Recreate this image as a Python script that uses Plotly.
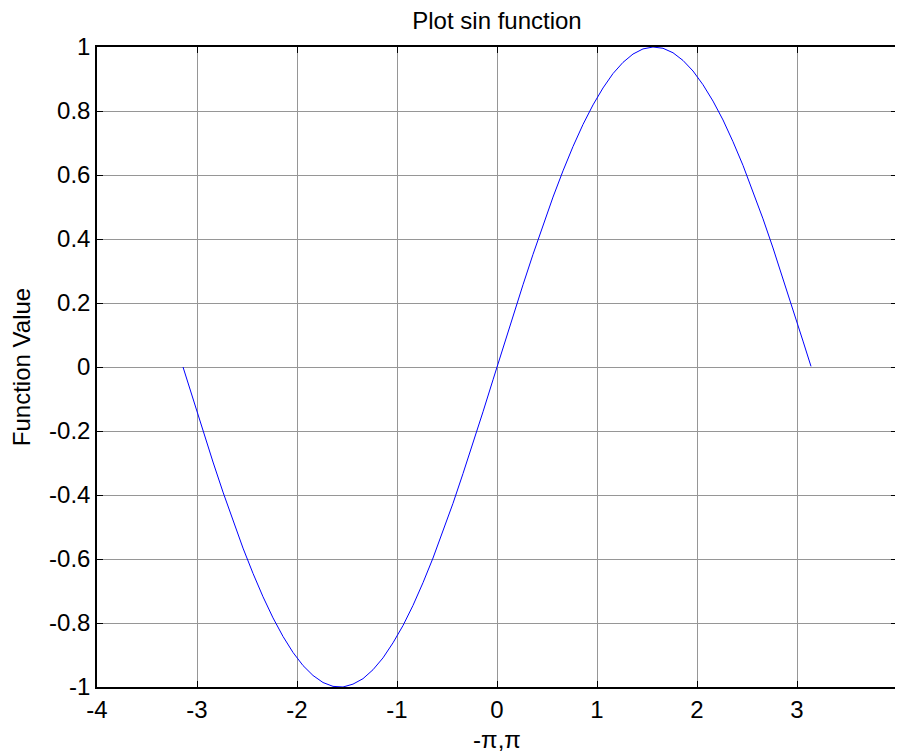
import plotly.graph_objects as go

x_vals = [-3.14, -3.04, -2.94, -2.84, -2.74, -2.64, -2.54, -2.44, -2.34, -2.24,
          -2.14, -2.04, -1.94, -1.84, -1.74, -1.64, -1.54, -1.44, -1.34, -1.24,
          -1.14, -1.04, -0.94, -0.84, -0.74, -0.64, -0.54, -0.44, -0.34, -0.24,
          -0.14, -0.04, 0.06, 0.16, 0.26, 0.36, 0.46, 0.56, 0.66, 0.76,
          0.86, 0.96, 1.06, 1.16, 1.26, 1.36, 1.46, 1.56, 1.66, 1.76,
          1.86, 1.96, 2.06, 2.16, 2.26, 2.36, 2.46, 2.56, 2.66, 2.76,
          2.86, 2.96, 3.06, 3.14]
y_vals = [0.000, -0.101, -0.200, -0.297, -0.391, -0.481, -0.566, -0.645, -0.718, -0.784,
          -0.842, -0.892, -0.933, -0.964, -0.986, -0.998, -1.000, -0.991, -0.974, -0.946,
          -0.909, -0.862, -0.808, -0.745, -0.674, -0.597, -0.514, -0.426, -0.333, -0.238,
          -0.140, -0.040, 0.060, 0.159, 0.257, 0.352, 0.444, 0.531, 0.613, 0.689,
          0.758, 0.819, 0.872, 0.917, 0.952, 0.978, 0.994, 1.000, 0.996, 0.982,
          0.958, 0.925, 0.882, 0.831, 0.772, 0.704, 0.630, 0.549, 0.463, 0.372,
          0.277, 0.180, 0.081, 0.002]

x_ticks = [-4, -3, -2, -1, 0, 1, 2, 3, 4]
x_tick_labels = ["-4", "-3", "-2", "-1", "0", "1", "2", "3", "4"]
y_ticks = [-1, -0.8, -0.6, -0.4, -0.2, 0, 0.2, 0.4, 0.6, 0.8, 1]
y_tick_labels = ["-1", "-0.8", "-0.6", "-0.4", "-0.2", "0", "0.2", "0.4", "0.6", "0.8", "1"]

title_text = "Plot sin function"
x_label = "-π,π"
y_label = "Function Value"

FONT = "Liberation Sans, Arial, sans-serif"
FS = 24
W, H = 895, 745  # page body has an 8px default offset

fig = go.Figure()
fig.add_trace(go.Scatter(x=x_vals, y=y_vals, mode="lines",
                         line=dict(color="#0000ff", width=1), showlegend=False))

axis_common = dict(
    showline=True, linecolor="black", linewidth=1.5, mirror="ticks",
    ticks="inside", ticklen=6, tickcolor="black", tickwidth=1,
    showgrid=True, gridcolor="rgb(150,150,150)", gridwidth=1,
    zeroline=False, tickfont=dict(family=FONT, size=FS, color="black"),
)

fig.update_layout(
    width=W, height=H,
    margin=dict(l=89, r=6, t=39, b=66, autoexpand=False),
    paper_bgcolor="white", plot_bgcolor="white",
    font=dict(family=FONT, size=FS, color="black"),
    title=dict(text=title_text, x=0.5, xanchor="center", y=1 - 13 / H,
               yanchor="middle", xref="paper",
               font=dict(family=FONT, size=FS, color="black")),
    xaxis=dict(range=[-4, 4], tickvals=x_ticks, ticktext=x_tick_labels,
               title=dict(text=x_label, standoff=13,
                          font=dict(family=FONT, size=FS, color="black")),
               **axis_common),
    yaxis=dict(range=[-1, 1], tickvals=y_ticks, ticktext=y_tick_labels,
               title=dict(text=y_label, standoff=20,
                          font=dict(family=FONT, size=FS, color="black")),
               **axis_common),
)

fig.write_html("out.html")
